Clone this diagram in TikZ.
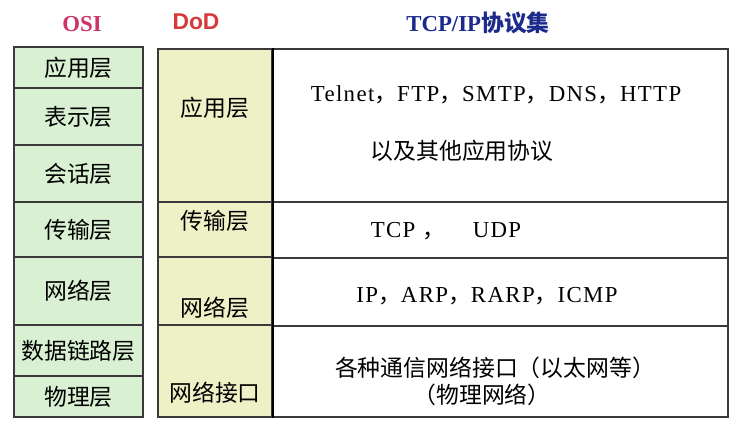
\documentclass[tikz,border=0pt]{standalone}
\usepackage{fontspec}
\setmainfont{Liberation Serif}
\newfontfamily\cjk{Noto Sans CJK SC}
\newfontfamily\dodfont{Liberation Sans}
\usetikzlibrary{positioning}
\definecolor{cgreen}{HTML}{D9F0D2}
\definecolor{cyellow}{HTML}{EEF0C6}
\definecolor{cline}{HTML}{3A3A3A}
\definecolor{cosi}{HTML}{CC3366}
\definecolor{cdod}{HTML}{D63A3A}
\definecolor{cblue}{HTML}{1C2A8C}
\newcommand\zc{{\cjk ，}}
\tikzset{
  every picture/.style={line width=1.1pt},
  cell/.style={draw=cline, fill=#1, inner sep=0pt},
  cell/.default=white,
  cn/.style={font=\cjk\fontsize{13}{15}\selectfont, inner sep=1pt},
  proto/.style={font=\addfontfeature{LetterSpace=6}\fontsize{13}{15}\selectfont, inner sep=1pt},
  head/.style={font=\bfseries\fontsize{13}{15}\selectfont},
}
\begin{document}
\begin{tikzpicture}[x=0.02cm, y=-0.02cm]
  \useasboundingbox (0,0) rectangle (740,422);
  % headers
  \node[head, text=cosi] (hosi) at (82,24) {OSI};
  \node[head, font=\dodfont\bfseries\fontsize{13}{15}\selectfont, text=cdod] (hdod) at (196,22) {DoD};
  \node[head, text=cblue] (htcp) at (478,23) {TCP/IP{\cjk\bfseries 协议集}};
  % OSI column
  \foreach \t/\b/\w [count=\k] in {47/88/应用层, 88/145/表示层, 145/202/会话层, 202/257/传输层, 257/325/网络层, 325/376/数据链路层, 376/417/物理层} {
    \node[cell=cgreen, cn, minimum width=2.58cm, minimum height={(\b-\t)*0.02cm}] (osi\k) at (78.5,{(\t+\b)/2}) {\w};
  }
  % DoD column
  \foreach \t/\b/\y/\w [count=\k] in {49/202/108/应用层, 202/257/221/传输层, 257/325/308/网络层, 325/417/393/网络接口} {
    \node[cell=cyellow, minimum width=2.28cm, minimum height={(\b-\t)*0.02cm}] (dod\k) at (215,{(\t+\b)/2}) {};
    \node[cn] (dodt\k) at (215,\y) {\w};
  }
  % TCP/IP column
  \foreach \t/\b [count=\k] in {49/202, 202/258, 258/326, 326/417} {
    \node[cell, minimum width=9.12cm, minimum height={(\b-\t)*0.02cm}] (tcp\k) at (500,{(\t+\b)/2}) {};
  }
  \draw[black, line width=1.6pt] (dod1.north east) -- (dod4.south east);
  \node[proto] (app) at (496,95) {Telnet\zc FTP\zc SMTP\zc DNS\zc HTTP};
  \node[cn] (appx) at (462,151) {以及其他应用协议};
  \node[proto] (trans) at (446,231) {TCP \zc\hspace{1.2em}UDP};
  \node[proto] (net) at (487,296) {IP\zc ARP\zc RARP\zc ICMP};
  \node[cn] (link) at (495,368) {各种通信网络接口（以太网等）};
  \node[cn] (phys) at (482,395) {（物理网络）};
\end{tikzpicture}
\end{document}
